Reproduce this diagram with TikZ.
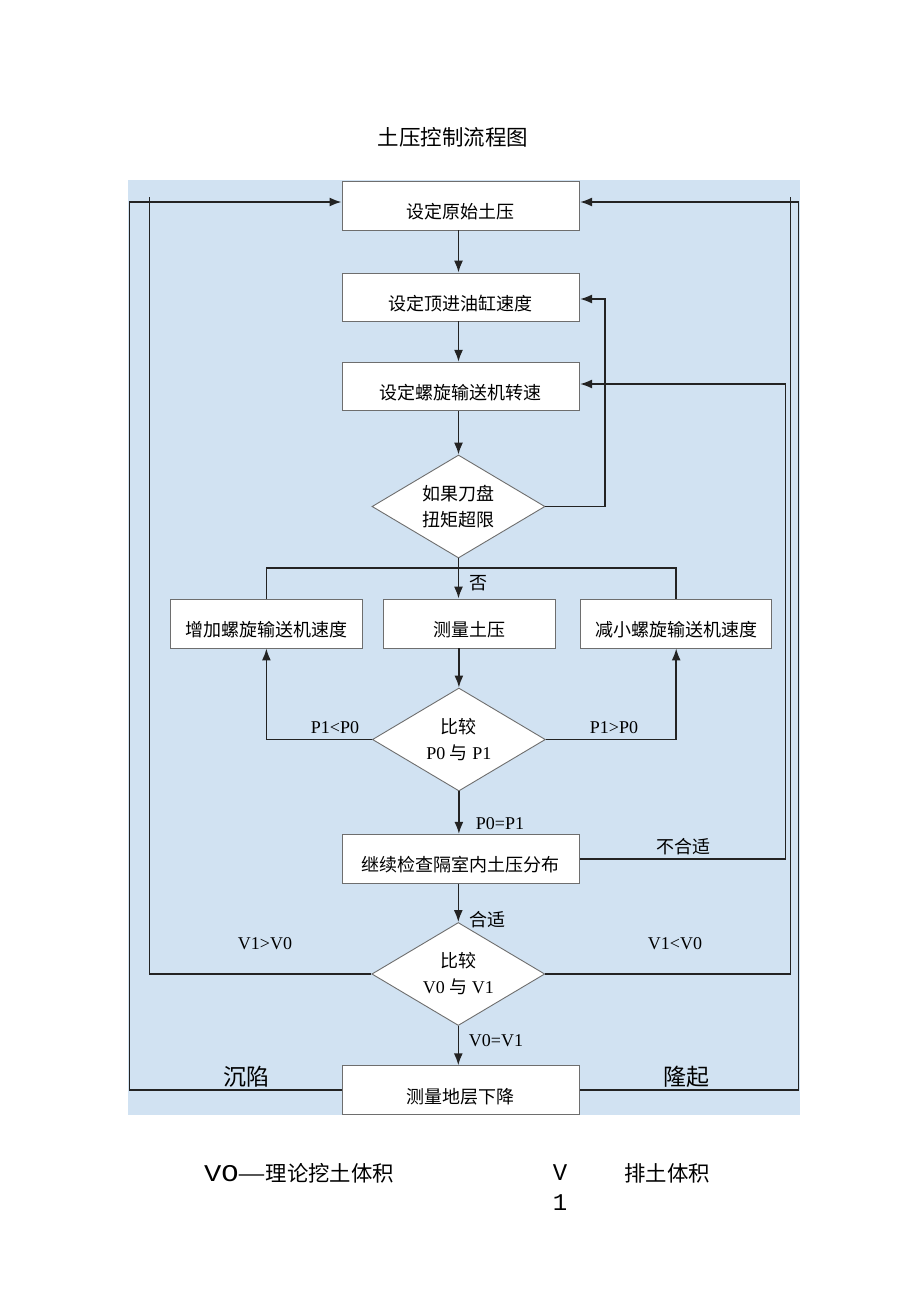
\documentclass[tikz,border=0pt]{standalone}
\usepackage{fontspec}
\usepackage{graphicx}
\setmainfont{Liberation Serif}
\newfontfamily\cjk{Noto Sans CJK SC}
\newfontfamily\mono{Liberation Mono}
\usetikzlibrary{shapes.geometric,arrows.meta}
\definecolor{bgblue}{RGB}{209,226,242}
\definecolor{lncol}{RGB}{35,35,35}
\definecolor{bdcol}{RGB}{110,110,110}
\begin{document}
\begin{tikzpicture}[x=1pt,y=-1pt,
  box/.style={draw=bdcol, line width=0.9pt, fill=white, inner sep=0pt,
    font=\cjk\fontsize{18}{22}\selectfont, text height=26pt, text depth=0pt},
  dia/.style={shape=diamond, draw=bdcol, line width=0.9pt, fill=white, inner sep=0pt,
    aspect=1.68, minimum width=173pt, minimum height=103pt, align=center,
    font=\fontsize{18}{26}\selectfont},
  conn/.style={draw=lncol, line width=1.6pt},
  arr/.style={conn, -{Latex[length=12pt,width=9pt]}},
  lab/.style={inner sep=0pt, font=\fontsize{18}{20}\selectfont},
  cjklab/.style={inner sep=0pt, font=\cjk\fontsize{18}{20}\selectfont},
  biglab/.style={inner sep=0pt, font=\cjk\fontsize{23}{25}\selectfont}
]
\useasboundingbox (0,0) rectangle (920,1301);
\fill[bgblue] (128,180) rectangle (800,1115);

% title
\node[inner sep=0pt, font=\cjk\fontsize{21.5}{24}\selectfont] (title) at (453,137) {土压控制流程图};

% boxes
\node[box, minimum width=237.7pt, minimum height=49pt] (b1) at (460.8,205.5) {设定原始土压};
\node[box, minimum width=237.7pt, minimum height=48pt] (b2) at (460.8,297) {设定顶进油缸速度};
\node[box, minimum width=237.7pt, minimum height=48.5pt] (b3) at (460.8,386.5) {设定螺旋输送机转速};
\node[dia] (d1) at (458.5,506.5) {{\cjk 如果刀盘}\\{\cjk 扭矩超限}};
\node[box, minimum width=191.3pt, minimum height=49pt] (lft) at (266.4,623.5) {增加螺旋输送机速度};
\node[box, minimum width=172pt, minimum height=49pt] (mid) at (469.8,623.5) {测量土压};
\node[box, minimum width=191.3pt, minimum height=49pt] (rgt) at (676.2,623.5) {减小螺旋输送机速度};
\node[dia] (d2) at (458.9,739.5) {{\cjk 比较}\\P0 {\cjk 与} P1};
\node[box, minimum width=237.7pt, minimum height=49pt] (b5) at (460.8,858.8) {继续检查隔室内土压分布};
\node[dia] (d3) at (458.3,974) {{\cjk 比较}\\V0 {\cjk 与} V1};
\node[box, minimum width=237.7pt, minimum height=48.5pt] (b7) at (460.8,1090) {测量地层下降};

% helper coordinates
\coordinate (r1) at (605,299);
\coordinate (r2) at (785.5,384);
\coordinate (h1) at (458,567.7);
\coordinate (l1) at (129.5,202);
\coordinate (l2) at (149.5,197);
\coordinate (rr1) at (798.5,202);
\coordinate (rr2) at (790.5,197);

% connectors
\draw[arr] (d1.north |- b1.south) -- (d1.north |- b2.north);
\draw[arr] (d1.north |- b2.south) -- (d1.north |- b3.north);
\draw[arr] (d1.north |- b3.south) -- (d1.north);
\draw[arr] (d1.east) -| (r1) -- (b2.east |- r1);
\draw[arr] (d1.south) -- (d1.south |- mid.north);
\draw[conn] (lft.north) |- (h1) -| (rgt.north);
\draw[arr] (d2.north |- mid.south) -- (d2.north);
\draw[arr] (d2.west) -| (lft.south);
\draw[arr] (d2.east) -| (rgt.south);
\draw[arr] (d2.south) -- (d2.south |- b5.north);
\draw[arr] (b5.east) -| (r2) -- (b3.east |- r2);
\draw[arr] (d3.north |- b5.south) -- (d3.north);
\draw[conn] (d3.west) -| (l2);
\draw[conn] (d3.east) -| (rr2);
\draw[arr] (b7.west) -| (l1) -- (b1.west |- l1);
\draw[arr] (b7.east) -| (rr1) -- (b1.east |- rr1);
\draw[arr] (d3.south) -- (d3.south |- b7.north);

% labels
\node[cjklab] (tno) at (478,583) {否};
\node[lab] (tlt) at (335,728) {P1<P0};
\node[lab] (tgt) at (614,728) {P1>P0};
\node[lab] (teq) at (500,824) {P0=P1};
\node[cjklab] (tbad) at (683,847) {不合适};
\node[cjklab] (tok) at (487,920) {合适};
\node[lab] (tvg) at (265,944) {V1>V0};
\node[lab] (tvl) at (675,944) {V1<V0};
\node[lab] (tveq) at (496,1041) {V0=V1};
\node[biglab] (tsink) at (246,1077) {沉陷};
\node[biglab] (trise) at (686,1077) {隆起};

% footnote
\node[anchor=west, inner sep=0pt] (fn1) at (204,1173)
  {\scalebox{1.2}[1]{\mono\fontsize{24}{26}\selectfont VO}{\cjk\fontsize{21.4}{24}\selectfont\scalebox{0.75}[1]{——}理论挖土体积}};
\node[inner sep=0pt, font=\mono\fontsize{24}{26}\selectfont] (fnv) at (560,1173) {V};
\node[inner sep=0pt, font=\mono\fontsize{24}{26}\selectfont] (fn1b) at (560,1203) {1};
\node[anchor=west, inner sep=0pt, font=\cjk\fontsize{21.4}{24}\selectfont] (fn2) at (624,1173) {排土体积};
\end{tikzpicture}
\end{document}
